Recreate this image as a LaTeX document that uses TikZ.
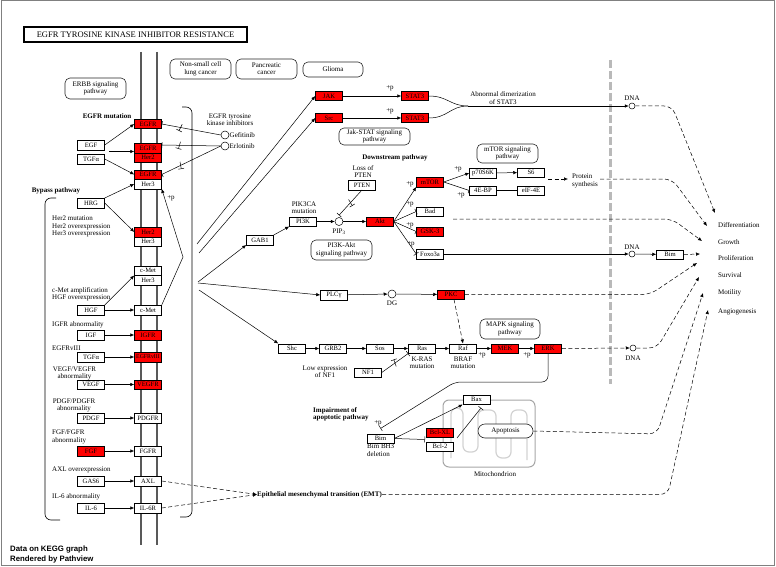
\documentclass[tikz,border=0pt]{standalone}
\usepackage{fontspec}
\setmainfont{Liberation Serif}
\newfontfamily\sansf{Liberation Sans}
\usetikzlibrary{arrows.meta,decorations.markings,calc}
\newcommand\gsz{\fontsize{6.6}{7}\selectfont}
\newcommand\lsz{\fontsize{7}{7.4}\selectfont}
\newcommand\bsz{\fontsize{7}{7.4}\selectfont\bfseries}
\begin{document}
\begin{tikzpicture}[x=1pt,y=-1pt,
  gene/.style={draw=black, line width=0.5pt, fill=white, minimum width=27pt, minimum height=9.5pt, inner sep=0pt, font=\gsz},
  redgene/.style={gene, fill=red},
  pw/.style={draw=black!85, line width=0.6pt, rounded corners=5pt, align=center, font=\lsz, inner sep=0pt},
  lbl/.style={font=\lsz, inner sep=0pt, align=center},
  lbll/.style={font=\lsz, inner sep=0pt, align=left, anchor=west},
  blbl/.style={font=\bsz, inner sep=0pt, align=left},
  arr/.style={-{Latex[length=4pt,width=3.5pt]}, line width=0.5pt},
  inh/.style={-{Bar[width=6pt]}, line width=0.5pt},
  dsh/.style={dash pattern=on 4pt off 2.5pt, line width=0.6pt},
  tick/.style={postaction={decorate}, decoration={markings, mark=at position #1 with {\draw[line width=0.5pt] (-1pt,-3.5pt) -- (1pt,3.5pt);}}},
  cir/.style={circle, draw, line width=0.5pt, minimum size=8pt, inner sep=0pt, fill=white},
  dna/.style={circle, draw, line width=0.5pt, minimum size=6pt, inner sep=0pt, fill=white},
  memb/.style={line width=1.6pt, draw=black!65}
]
\useasboundingbox (0,0) rectangle (776,567);
\draw[gray, line width=1pt] (1,1) rectangle (774,565);

% title
\node[draw, line width=1.1pt, minimum width=223pt, minimum height=15pt, inner sep=0pt, font=\fontsize{8.5}{9}\selectfont] (title) at (135.5,34.5) {EGFR TYROSINE KINASE INHIBITOR RESISTANCE};

% pathway boxes
\node[pw, minimum width=61pt, minimum height=21pt] (erbb) at (95.5,88.5) {ERBB signaling\\pathway};
\node[pw, minimum width=61pt, minimum height=20pt] (nsclc) at (200.5,69) {Non-small cell\\lung cancer};
\node[pw, minimum width=61pt, minimum height=20pt] (panc) at (266.5,69) {Pancreatic\\cancer};
\node[pw, minimum width=60pt, minimum height=15pt] (glioma) at (333,69.5) {Glioma};
\node[pw, minimum width=71pt, minimum height=17pt] (jakpw) at (374.5,136.5) {Jak-STAT signaling\\pathway};
\node[pw, minimum width=61pt, minimum height=20pt] (pi3kpw) at (341.5,250) {PI3K-Akt\\signaling pathway};
\node[pw, minimum width=61pt, minimum height=19pt] (mtorpw) at (507.5,153.5) {mTOR signaling\\pathway};
\node[pw, minimum width=60pt, minimum height=20pt] (mapkpw) at (510,329) {MAPK signaling\\pathway};

% membrane
\draw[memb] (141,52) -- (141,545);
\draw[memb] (157,52) -- (157,545);

% brackets
\draw[line width=0.6pt, rounded corners=6pt] (182,107) -- (192,107) -- (192,517) -- (180,517);
\draw[line width=0.6pt, rounded corners=6pt] (56,198) -- (45,198) -- (45,520) -- (60,520);

% nuclear membrane
\draw[gray!55, line width=3pt, dash pattern=on 8pt off 3pt] (610,60) -- (610,384);

% receptors
\node[redgene] (egfr1) at (148,124) {EGFR};
\node[redgene] (egfr2) at (148,148) {EGFR};
\node[redgene] (her2a) at (148,157.5) {Her2};
\node[redgene] (egfr3) at (148,174.5) {EGFR};
\node[gene] (her3a) at (148,184) {Her3};
\node[redgene] (her2b) at (148,232) {Her2};
\node[gene] (her3b) at (148,241.5) {Her3};
\node[gene] (cmet1) at (148,270.5) {c-Met};
\node[gene] (her3c) at (148,280) {Her3};
\node[gene] (cmet2) at (148,310) {c-Met};
\node[redgene] (igfr) at (148,335) {IGFR};
\node[redgene, font=\fontsize{5.8}{6}\selectfont] (egfrv) at (148,357) {EGFRvIII};
\node[redgene] (vegfr) at (148,384.5) {VEGFR};
\node[gene] (pdgfr) at (148,418) {PDGFR};
\node[gene] (fgfr) at (148,451) {FGFR};
\node[gene] (axl) at (148,481) {AXL};
\node[gene] (il6r) at (148,508) {IL-6R};

% ligands
\node[gene] (egf) at (91,145) {EGF};
\node[gene] (tgfa1) at (91,159) {TGFα};
\node[gene] (hrg) at (91,203) {HRG};
\node[gene] (hgf) at (91,310) {HGF};
\node[gene] (igf) at (91,335) {IGF};
\node[gene] (tgfa2) at (91,357) {TGFα};
\node[gene] (vegf) at (91,384.5) {VEGF};
\node[gene] (pdgf) at (91,418) {PDGF};
\node[redgene] (fgf) at (91,451) {FGF};
\node[gene] (gas6) at (91,481) {GAS6};
\node[gene] (il6) at (91,508) {IL-6};

% left labels
\node[blbl] at (107,116) {EGFR mutation};
\node[blbl] at (56,191) {Bypass pathway};
\node[lbll] at (52,226.5) {Her2 mutation\\Her2 overexpression\\Her3 overexpression};
\node[lbll] at (52,294) {c-Met amplification\\HGF overexpression};
\node[lbll] at (52,325) {IGFR abnormality};
\node[lbll] at (52,348) {EGFRvIII};
\node[lbl] at (74.5,373.5) {VEGF/VEGFR\\abnormality};
\node[lbl] at (74,405.5) {PDGF/PDGFR\\abnormality};
\node[lbll] at (52,437) {FGF/FGFR\\abnormality};
\node[lbll] at (52,470) {AXL overexpression};
\node[lbll] at (52,497) {IL-6 abnormality};

% ligand arrows
\coordinate (egmid) at (109,151.5);
\draw[arr] (egf.east) -- (egfr1.west);
\draw[arr] (egmid) -- (egmid -| egfr2.west);
\draw[arr] (tgfa1.east) -- (egfr3.west);
\draw[arr] (hrg.north east) -- (her3a.west);
\draw[arr] (hrg.east) -- (her2b.west);
\draw[arr] (hgf.north east) -- (cmet1.south west);
\draw[arr] (hgf) -- (cmet2);
\draw[arr] (igf) -- (igfr);
\draw[arr] (tgfa2) -- (egfrv);
\draw[arr] (vegf) -- (vegfr);
\draw[arr] (pdgf) -- (pdgfr);
\draw[arr] (fgf) -- (fgfr);
\draw[arr] (gas6) -- (axl);
\draw[arr] (il6) -- (il6r);

% c-Met -> Her3
\coordinate (cmbend) at (183,257);
\draw[arr] (cmet2.north east) -- (cmbend) -- (her3a.south east);
\node[lbl] at (171,198) {+p};

% inhibitors
\node[lbl] at (230,120) {EGFR tyrosine\\kinase inhibitors};
\node[cir] (gef) at (225,135) {};
\node[cir] (erl) at (225,146) {};
\node[lbll] at (229.5,135) {Gefitinib};
\node[lbll] at (229.5,146) {Erlotinib};
\draw[inh, tick=0.68] (gef.west) -- (egfr1.east);
\draw[inh, tick=0.7] (erl.west) -- ([yshift=3pt]egfr2.east);
\draw[inh, tick=0.68] (erl.west) -- (egfr3.east);

% JAK / STAT
\node[redgene] (jak) at (329,96) {JAK};
\node[redgene] (src) at (329,118) {Src};
\node[redgene] (stat3a) at (415,96) {STAT3};
\node[redgene] (stat3b) at (415,118) {STAT3};
\coordinate (fjak) at (197,244);
\coordinate (fsrc) at (199,253);
\draw[arr] (fjak) -- (jak.west);
\draw[arr] (fsrc) -- (src.west);
\draw[arr] (jak) -- (stat3a);
\draw[arr] (src) -- (stat3b);
\node[lbl] at (390,88) {+p};
\node[lbl] at (390,111) {+p};
\coordinate (merge) at (468,106);
\draw[line width=0.5pt] (stat3a.east) .. controls (448,96) and (450,106) .. (merge);
\draw[line width=0.5pt] (stat3b.east) .. controls (448,118) and (450,106) .. (merge);
\node[dna] (dna1) at (632,106) {};
\node[lbl] at (632,98) {DNA};
\draw[arr] (merge) -- (dna1.west);
\node[lbl] at (503,98) {Abnormal dimerization\\of STAT3};

% PI3K
\node[blbl] at (395,158) {Downstream pathway};
\node[gene] (gab1) at (260,240) {GAB1};
\node[gene] (pi3k) at (303,221.5) {PI3K};
\node[lbl] at (304,207.5) {PIK3CA\\mutation};
\node[cir] (pip3) at (339,221.5) {};
\node[lbl] at (339,232) {PIP\textsubscript{3}};
\node[gene] (pten) at (362,185) {PTEN};
\node[lbl] at (363,171.5) {Loss of\\PTEN};
\node[redgene] (akt) at (380,221.5) {Akt};
\coordinate (fgab) at (198,282);
\draw[arr] (fgab) -- (gab1.south west);
\draw[arr] (gab1.north east) -- (pi3k.south west);
\draw[arr] (pi3k) -- (pip3);
\draw[arr] (pip3) -- (akt);
\draw[inh, tick=0.5] (pten.south) -- ([yshift=2pt]pip3.north);

\node[redgene] (mtor) at (430,182) {mTOR};
\node[gene] (bad) at (430,211.5) {Bad};
\node[redgene] (gsk) at (430,231.5) {GSK-3};
\node[gene] (foxo) at (430,254) {Foxo3a};
\draw[arr] (akt.east) -- (mtor.south west);
\draw[inh] (akt.east) -- (bad.west);
\draw[inh] (akt.east) -- (gsk.west);
\draw[inh] (akt.east) -- (foxo.west);
\node[lbl] at (410,184) {+p};
\node[lbl] at (410,204) {+p};
\node[lbl] at (410,225) {+p};
\node[lbl] at (411,244) {+p};

\node[gene] (p70) at (483,173) {p70S6K};
\node[gene] (s6) at (531,172.5) {S6};
\node[gene] (ebp) at (483,190.5) {4E-BP};
\node[gene] (eif) at (531,190.5) {eIF-4E};
\draw[arr] (mtor.east) -- (p70.west);
\draw[inh] (mtor.east) -- (ebp.west);
\draw[arr] (p70) -- (s6);
\draw[inh] (ebp) -- (eif);
\node[lbl] at (458,169) {+p};
\node[lbl] at (461,195) {+p};
\coordinate (s6r) at (548,179);
\coordinate (ps) at (568,179);
\draw[dsh, arr] (s6r) -- (ps);
\node[lbll] at (572,181) {Protein\\synthesis};

% Foxo -> DNA -> Bim
\node[dna] (dna2) at (632,254) {};
\node[lbl] at (632,247) {DNA};
\node[gene] (bimn) at (670,254.5) {Bim};
\draw[arr] (foxo) -- (dna2);
\draw[arr] (dna2) -- (bimn);

% PLC
\node[gene] (plc) at (334,295) {PLCγ};
\node[cir] (dg) at (392,294) {};
\node[lbl] at (392,303.5) {DG};
\node[redgene] (pkc) at (451,294.5) {PKC};
\coordinate (fplc) at (198,283);
\draw[arr] (fplc) -- (plc.west);
\draw[arr] (plc) -- (dg);
\draw[arr] (dg) -- (pkc);

% MAPK
\node[gene] (shc) at (292,348.5) {Shc};
\node[gene] (grb2) at (333,348.5) {GRB2};
\node[gene] (sos) at (380,348.5) {Sos};
\node[gene] (ras) at (422,348.5) {Ras};
\node[gene] (raf) at (463,348.5) {Raf};
\node[redgene] (mek) at (505,348.5) {MEK};
\node[redgene] (erk) at (548,348.5) {ERK};
\node[gene] (nf1) at (368,372.5) {NF1};
\coordinate (fshc) at (199,290);
\draw[arr] (fshc) -- (shc.north west);
\draw[arr] (shc) -- (grb2);
\draw[arr] (grb2) -- (sos);
\draw[arr] (sos) -- (ras);
\draw[arr] (ras) -- (raf);
\draw[arr] (raf) -- (mek);
\draw[arr] (mek) -- (erk);
\draw[inh, tick=0.5] (nf1.east) -- (ras.south west);
\draw[dsh, arr] ([xshift=3pt]pkc.south) -- (raf.north);
\node[lbl] at (422,362.5) {K-RAS\\mutation};
\node[lbl] at (463,363) {BRAF\\mutation};
\node[lbl] at (325,371.5) {Low expression\\of NF1};
\node[lbl] at (482,355) {+p};
\node[lbl] at (527,355) {+p};
\node[dna] (dna3) at (633,348) {};
\node[lbl] at (633,358) {DNA};
\draw[dsh, arr] (erk.east) -- (dna3.west);

% apoptosis
\draw[gray!70, line width=1pt, rounded corners=6pt] (443,400) rectangle (535,467);
\draw[gray!35, line width=1.2pt, rounded corners=6pt] (451,458) -- (451,408) -- (463,408) -- (463,452) -- (478,452) -- (478,410) -- (496,410) -- (496,458) -- (511,458) -- (511,410) -- (527,410) -- (527,460);
\node[lbl] at (495,474) {Mitochondrion};
\node[pw, minimum width=55pt, minimum height=14pt, rounded corners=7pt, fill=white] (apop) at (505.5,431) {Apoptosis};
\node[gene] (bax) at (476.5,399.5) {Bax};
\node[redgene] (bclxl) at (440,432.5) {Bcl-XL};
\node[gene] (bcl2) at (440,446.5) {Bcl-2};
\node[gene] (bim) at (380.5,438.5) {Bim};
\node[lbll, anchor=north west] at (367,444) {Bim BH3\\deletion};
\node[blbl, anchor=west] at (313,414) {Impairment of\\apoptotic pathway};
\draw[inh, rounded corners=6pt] (erk.south) -- (548,382) -- (455,382) -- ([yshift=5pt]bim.north);
\node[lbl] at (378,423) {+p};
\draw[arr] (bim.east) -- (bax.south west);
\draw[inh] (bim.east) -- (425,439.5);
\draw[inh] (457,438) -- (481,408);

% EMT
\node[blbl, anchor=west] (emt) at (257,494.5) {Epithelial mesenchymal transition (EMT)};
\draw[dsh, arr] (axl.east) -- (emt.west);
\draw[dsh, arr] (il6r.east) -- (emt.west);

% outcomes
\node[lbll] at (718,225) {Differentiation};
\node[lbll] at (718,242) {Growth};
\node[lbll] at (718,258) {Proliferation};
\node[lbll] at (718,275) {Survival};
\node[lbll] at (718,293) {Motility};
\node[lbll] at (718,312) {Angiogenesis};

\draw[dsh, arr, rounded corners=8pt] (dna1.east) -- (672,106) -- (715,213);
\draw[dsh, arr, rounded corners=8pt] (600,179) -- (672,179) -- (707,226);
\draw[dsh, arr, rounded corners=8pt] (453,219) -- (672,219) -- (702,241);
\draw[dsh, arr] (bimn.east) -- (700,254);
\draw[dsh, arr, rounded corners=8pt] (pkc.east) -- (650,294.5) -- (697,263);
\draw[dsh, arr, rounded corners=8pt] (dna3.east) -- (657,348) -- (699,277);
\draw[dsh, arr, rounded corners=8pt] (apop.east) -- (657,434) -- (703,293);
\draw[dsh, arr, rounded corners=8pt] (emt.east) -- (668,494.5) -- (708,310);

% footer
\node[font=\sansf\bfseries\fontsize{7.8}{9.5}\selectfont, align=left, anchor=north west, inner sep=0pt] at (10,546) {Data on KEGG graph\\Rendered by Pathview};
\end{tikzpicture}
\end{document}
